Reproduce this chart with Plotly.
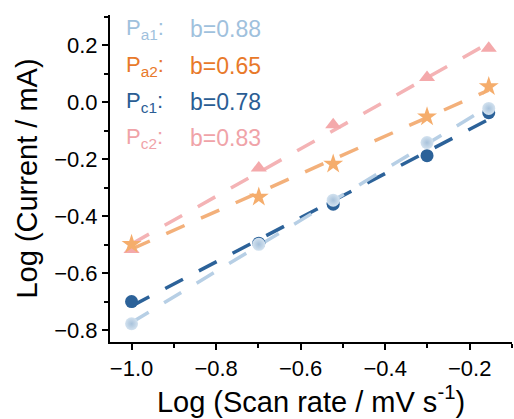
import numpy as np
import plotly.graph_objects as go

x_vals = [-1.0, -0.699, -0.523, -0.301, -0.155]
pa1 = [-0.778, -0.499, -0.344, -0.142, -0.022]
pa2 = [-0.499, -0.333, -0.217, -0.051, 0.055]
pc1 = [-0.700, -0.495, -0.358, -0.188, -0.037]
pc2 = [-0.517, -0.231, -0.079, 0.087, 0.189]

names = ["P<sub>a1</sub>", "P<sub>a2</sub>", "P<sub>c1</sub>", "P<sub>c2</sub>"]
b_labels = ["b=0.88", "b=0.65", "b=0.78", "b=0.83"]

FONT = "Liberation Sans, Arial, sans-serif"

series = [
    # data, line color, marker color, symbol, size
    (pc2, "#f4b3b5", "#f4a9ab", "triangle-up", 14),
    (pa2, "#f3b07a", "#f5ad6c", "star", 15),
    (pc1, "#2c6299", "#2c6299", "circle", 13),
    (pa1, "#b7cfe5", "#d3e2ef", "circle", 13),
]

fig = go.Figure()
xa = np.array(x_vals)
for data, lc, mc, sym, sz in series:
    k, c = np.polyfit(xa, np.array(data), 1)
    fig.add_trace(go.Scatter(
        x=[xa.min(), xa.max()], y=[k * xa.min() + c, k * xa.max() + c],
        mode="lines", line=dict(color=lc, width=3.5, dash="20px,18px"),
        showlegend=False, hoverinfo="skip"))
for data, lc, mc, sym, sz in series:
    marker = dict(color=mc, size=sz, symbol=sym, line=dict(width=0))
    if sym == "circle" and lc == "#b7cfe5":
        marker["gradient"] = dict(type="radial", color="#a8c2db")
    fig.add_trace(go.Scatter(x=x_vals, y=data, mode="markers", marker=marker,
                             showlegend=False))

text_colors = ["#9fc1dd", "#e8792a", "#2a5d94", "#f0a3a8"]
ys = [0.957, 0.844, 0.734, 0.624]
for nm, bl, col, yy in zip(names, b_labels, text_colors, ys):
    fig.add_annotation(xref="paper", yref="paper", x=0.035, y=yy, xanchor="left",
                       yanchor="middle", showarrow=False, text=nm + ":",
                       font=dict(family=FONT, size=22, color=col))
    fig.add_annotation(xref="paper", yref="paper", x=0.195, y=yy, xanchor="left",
                       yanchor="middle", showarrow=False, text=bl,
                       font=dict(family=FONT, size=23, color=col))

axis_common = dict(
    showline=True, linecolor="black", linewidth=2, ticks="outside", ticklen=6,
    tickwidth=2, tickcolor="black", showgrid=False, zeroline=False, mirror=False,
    tickfont=dict(family=FONT, size=22, color="black"),
    minor=dict(ticks="outside", ticklen=4, tickwidth=1.5, tickcolor="black", dtick=0.1),
)
fig.update_xaxes(range=[-1.051, -0.1], dtick=0.2, tick0=-1.0, tickformat=".1f",
                 title=dict(text="Log (Scan rate / mV s<sup>-1</sup>)", standoff=2,
                            font=dict(family=FONT, size=29, color="black")),
                 **axis_common)
fig.update_yaxes(range=[-0.842, 0.306], dtick=0.2, tick0=0.0, tickformat=".1f",
                 title=dict(text="Log (Current / mA)", standoff=8,
                            font=dict(family=FONT, size=29, color="black")),
                 **axis_common)
fig.update_layout(width=514, height=419, margin=dict(l=110, r=2, t=15, b=77),
                  plot_bgcolor="white", paper_bgcolor="white", showlegend=False)
fig.write_html("out.html", config={"displayModeBar": False},
               post_script="document.body.style.margin='0';document.body.style.padding='0';")
